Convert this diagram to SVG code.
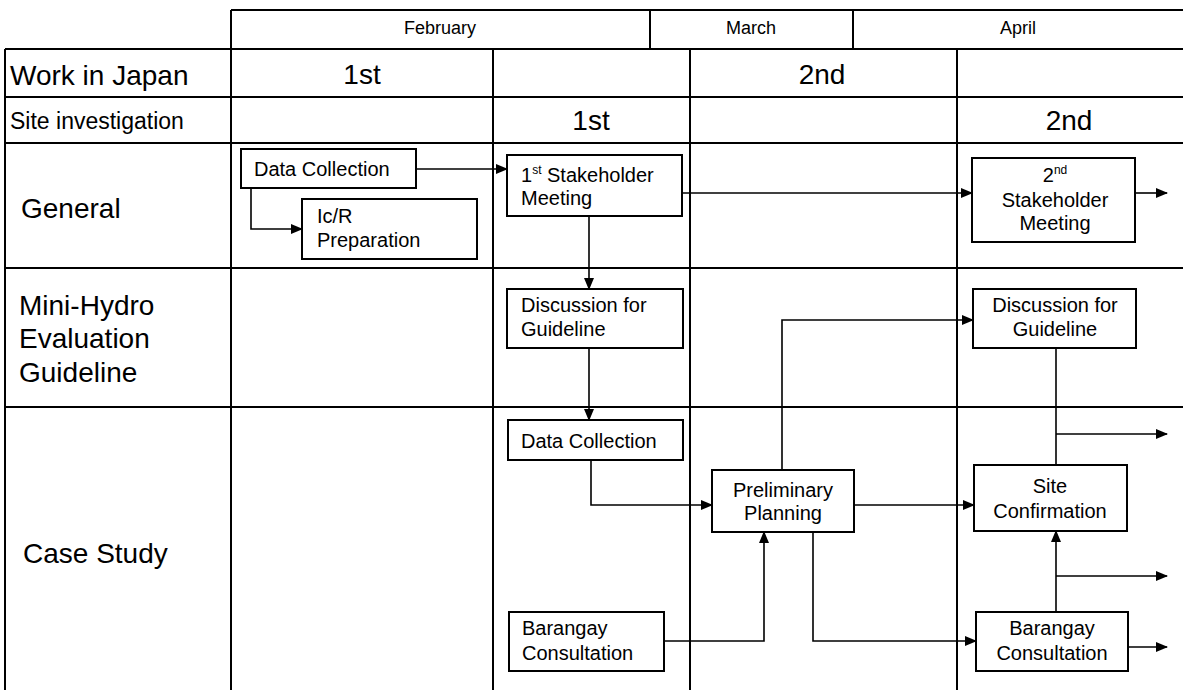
<svg xmlns="http://www.w3.org/2000/svg" width="1183" height="690" viewBox="0 0 1183 690">
<defs>
<style>
.grid{stroke:#000;stroke-width:2;fill:none}
.box{fill:#fff;stroke:#000;stroke-width:2}
.conn{fill:none;stroke:#000;stroke-width:1.6}
text{font-family:"Liberation Sans",Arial,sans-serif;fill:#000}
.lab{font-size:28px}
.lab2{font-size:23px}
.mon{font-size:18px}
.ph{font-size:28px;text-anchor:middle}
.bt{font-size:20px}
.c{text-anchor:middle}
.sup{font-size:12px}
</style>
<marker id="ah" markerWidth="12" markerHeight="10" refX="11" refY="5" orient="auto" markerUnits="userSpaceOnUse">
<path d="M0,0 L12,5 L0,10 Z" fill="#000"/>
</marker>
</defs>
<rect width="1183" height="690" fill="#fff"/>
<g id="grid">
<path class="grid" d="M231,10 H1183 M231,49 H1183 M650,10 V49 M853,10 V49"/>
<path class="grid" d="M5,49 H231 M5,97 H1183 M5,143 H1183 M5,268 H1183 M5,407 H1183"/>
<path class="grid" d="M5,49 V690 M231,10 V690 M493,49 V690 M690,49 V690 M957,49 V690"/>
</g>
<g id="header">
<text class="mon c" x="440" y="34">February</text>
<text class="mon c" x="751" y="34">March</text>
<text class="mon c" x="1018" y="34">April</text>
</g>
<g id="row-labels">
<text class="lab" x="10" y="85">Work in Japan</text>
<text class="lab2" x="10" y="129">Site investigation</text>
<text class="lab" x="21" y="218">General</text>
<text class="lab" x="19" y="315">Mini-Hydro</text>
<text class="lab" x="19" y="348">Evaluation</text>
<text class="lab" x="19" y="382">Guideline</text>
<text class="lab" x="23" y="563">Case Study</text>
</g>
<g id="phases">
<text class="ph" x="362" y="84">1st</text>
<text class="ph" x="822" y="84">2nd</text>
<text class="ph" x="591" y="130">1st</text>
<text class="ph" x="1069" y="130">2nd</text>
</g>
<g id="connectors">
<path class="conn" marker-end="url(#ah)" d="M416,169 H507"/>
<path class="conn" marker-end="url(#ah)" d="M251,188 V229 H302"/>
<path class="conn" marker-end="url(#ah)" d="M682,193 H972"/>
<path class="conn" marker-end="url(#ah)" d="M1135,193 H1167"/>
<path class="conn" marker-end="url(#ah)" d="M589,216 V289"/>
<path class="conn" marker-end="url(#ah)" d="M589,348 V420"/>
<path class="conn" marker-end="url(#ah)" d="M591,460 V505 H712"/>
<path class="conn" marker-end="url(#ah)" d="M664,641 H764 V532"/>
<path class="conn" marker-end="url(#ah)" d="M782,470 V320 H973"/>
<path class="conn" marker-end="url(#ah)" d="M854,505 H974"/>
<path class="conn" marker-end="url(#ah)" d="M813,532 V641 H976"/>
<path class="conn" d="M1056,348 V465"/>
<path class="conn" marker-end="url(#ah)" d="M1056,434 H1167"/>
<path class="conn" marker-end="url(#ah)" d="M1056,612 V531"/>
<path class="conn" marker-end="url(#ah)" d="M1056,576 H1167"/>
<path class="conn" marker-end="url(#ah)" d="M1128,647 H1167"/>
</g>
<g id="dc1"><rect class="box" x="241" y="149" width="175" height="39"/><text class="bt" x="254" y="176">Data Collection</text></g>
<g id="icr"><rect class="box" x="302" y="199" width="175" height="60"/><text class="bt" x="317" y="223">Ic/R</text><text class="bt" x="317" y="247">Preparation</text></g>
<g id="sh1"><rect class="box" x="507" y="155" width="175" height="61"/><text class="bt" x="521" y="182">1<tspan class="sup" dy="-8">st</tspan><tspan dy="8"> Stakeholder</tspan></text><text class="bt" x="521" y="205">Meeting</text></g>
<g id="sh2"><rect class="box" x="972" y="158" width="163" height="84"/><text class="bt c" x="1055" y="182">2<tspan class="sup" dy="-8">nd</tspan></text><text class="bt c" x="1055" y="207">Stakeholder</text><text class="bt c" x="1055" y="230">Meeting</text></g>
<g id="dg1"><rect class="box" x="507" y="289" width="176" height="59"/><text class="bt" x="521" y="312">Discussion for</text><text class="bt" x="521" y="336">Guideline</text></g>
<g id="dg2"><rect class="box" x="973" y="289" width="163" height="59"/><text class="bt c" x="1055" y="312">Discussion for</text><text class="bt c" x="1055" y="336">Guideline</text></g>
<g id="dc2"><rect class="box" x="508" y="420" width="175" height="40"/><text class="bt" x="521" y="448">Data Collection</text></g>
<g id="pp"><rect class="box" x="712" y="470" width="142" height="62"/><text class="bt c" x="783" y="497">Preliminary</text><text class="bt c" x="783" y="520">Planning</text></g>
<g id="sc"><rect class="box" x="974" y="465" width="153" height="66"/><text class="bt c" x="1050" y="493">Site</text><text class="bt c" x="1050" y="518">Confirmation</text></g>
<g id="bc1"><rect class="box" x="509" y="612" width="155" height="59"/><text class="bt" x="522" y="635">Barangay</text><text class="bt" x="522" y="660">Consultation</text></g>
<g id="bc2"><rect class="box" x="976" y="612" width="152" height="59"/><text class="bt c" x="1052" y="635">Barangay</text><text class="bt c" x="1052" y="660">Consultation</text></g>
</svg>
